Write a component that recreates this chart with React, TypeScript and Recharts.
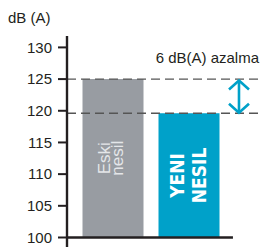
import React from "react";
import { BarChart, Bar, XAxis, YAxis, ReferenceLine, LabelList, Cell } from "recharts";

// values
const categories = ["Eski nesil", "YENI NESIL"];
const levels = [125, 119.6];
const baseLevel = 100;
const yTicks = [100, 105, 110, 115, 120, 125, 130];
const barLines = [["Eski", "nesil"], ["YENI", "NESIL"]];
const reductionText = "6 dB(A) azalma";
const unitText = "dB (A)";

const INK = "#231f20";
const GREY = "#989ca2";
const BLUE = "#00a1c9";
const FONT = "'Liberation Sans', Arial, sans-serif";

const data = categories.map((name, i) => ({ name, range: [baseLevel, levels[i]] }));

// per-bar label look
const labelStyle = [
  { fill: "#e4e6e9", fontSize: 17, fontWeight: 400, family: FONT, first: -2.5, gap: 12.5 },
  { fill: "#ffffff", fontSize: 19, fontWeight: 700, family: "'Liberation Sans Narrow', 'DejaVu Sans Condensed', Arial, sans-serif", first: -4.5, gap: 22 },
];

function BarText(props: any) {
  const { x, y, width, height, index } = props;
  const s = labelStyle[index];
  const cx = Number(x) + Number(width) / 2;
  const cy = Number(y) + Number(height) / 2;
  return (
    <g>
      {barLines[index].map((t, k) => {
        const bx = cx + s.first + k * s.gap;
        return (
          <text
            key={k}
            x={bx}
            y={cy}
            transform={`rotate(-90 ${bx} ${cy})`}
            textAnchor="middle"
            fill={s.fill}
            fontSize={s.fontSize}
            fontWeight={s.fontWeight}
            fontFamily={s.family}
          >
            {t}
          </text>
        );
      })}
    </g>
  );
}

function Arrow(props: any) {
  const { x1, y1, x2, y2 } = props;
  const x = Number(x1);
  const top = Math.min(Number(y1), Number(y2)) + 1.5;
  const bot = Math.max(Number(y1), Number(y2)) - 0.5;
  const hw = 10;
  const hh = 9;
  return (
    <g stroke={BLUE} strokeWidth={2.6} fill="none" strokeLinecap="butt">
      <line x1={x} y1={top} x2={x} y2={bot} />
      <polyline points={`${x - hw},${top + hh} ${x},${top} ${x + hw},${top + hh}`} />
      <polyline points={`${x - hw},${bot - hh} ${x},${bot} ${x + hw},${bot - hh}`} />
    </g>
  );
}

function ReductionLabel(props: any) {
  const vb = props.viewBox || {};
  return (
    <text x={vb.x + vb.width - 3} y={vb.y - 16} textAnchor="end" fontSize={15} fill={INK} fontFamily={FONT}>
      {reductionText}
    </text>
  );
}

function UnitLabel(props: any) {
  const vb = props.viewBox || {};
  return (
    <text x={vb.x + 8} y={vb.y - 13} fontSize={15} fill={INK} fontFamily={FONT}>
      {unitText}
    </text>
  );
}

export default function App() {
  return (
    <div style={{ position: "absolute", left: 0, top: 0, background: "#fff" }}>
      <BarChart width={262} height={249} data={data} margin={{ top: 36, right: 0, bottom: 2, left: 0 }}>
        <XAxis dataKey="name" hide padding={{ left: 7.5, right: 35.5 }} />
        <XAxis xAxisId="n" type="number" domain={[0, 1]} hide />
        <YAxis
          type="number"
          domain={[98.5, 131.8]}
          ticks={yTicks}
          width={67}
          tickSize={9}
          tickMargin={6}
          axisLine={{ stroke: INK, strokeWidth: 2.4 }}
          tickLine={{ stroke: INK, strokeWidth: 2 }}
          tick={{ fill: INK, fontSize: 15, fontFamily: FONT }}
          label={<UnitLabel />}
        />
        <Bar dataKey="range" barSize={61} isAnimationActive={false} fill={GREY}>
          {data.map((d, i) => (
            <Cell key={d.name} fill={i === 0 ? GREY : BLUE} />
          ))}
          <LabelList dataKey="name" content={<BarText />} />
        </Bar>
        <ReferenceLine
          xAxisId="n"
          segment={[{ x: 0, y: baseLevel }, { x: 0.851, y: baseLevel }]}
          stroke={INK}
          strokeWidth={2.4}
        />
        <ReferenceLine y={levels[0]} stroke="#555" strokeWidth={1.4} strokeDasharray="9 5" label={<ReductionLabel />} />
        <ReferenceLine y={levels[1]} stroke="#555" strokeWidth={1.4} strokeDasharray="9 5" />
        <ReferenceLine
          xAxisId="n"
          segment={[{ x: 0.882, y: levels[0] }, { x: 0.882, y: levels[1] }]}
          shape={<Arrow />}
        />
      </BarChart>
    </div>
  );
}
